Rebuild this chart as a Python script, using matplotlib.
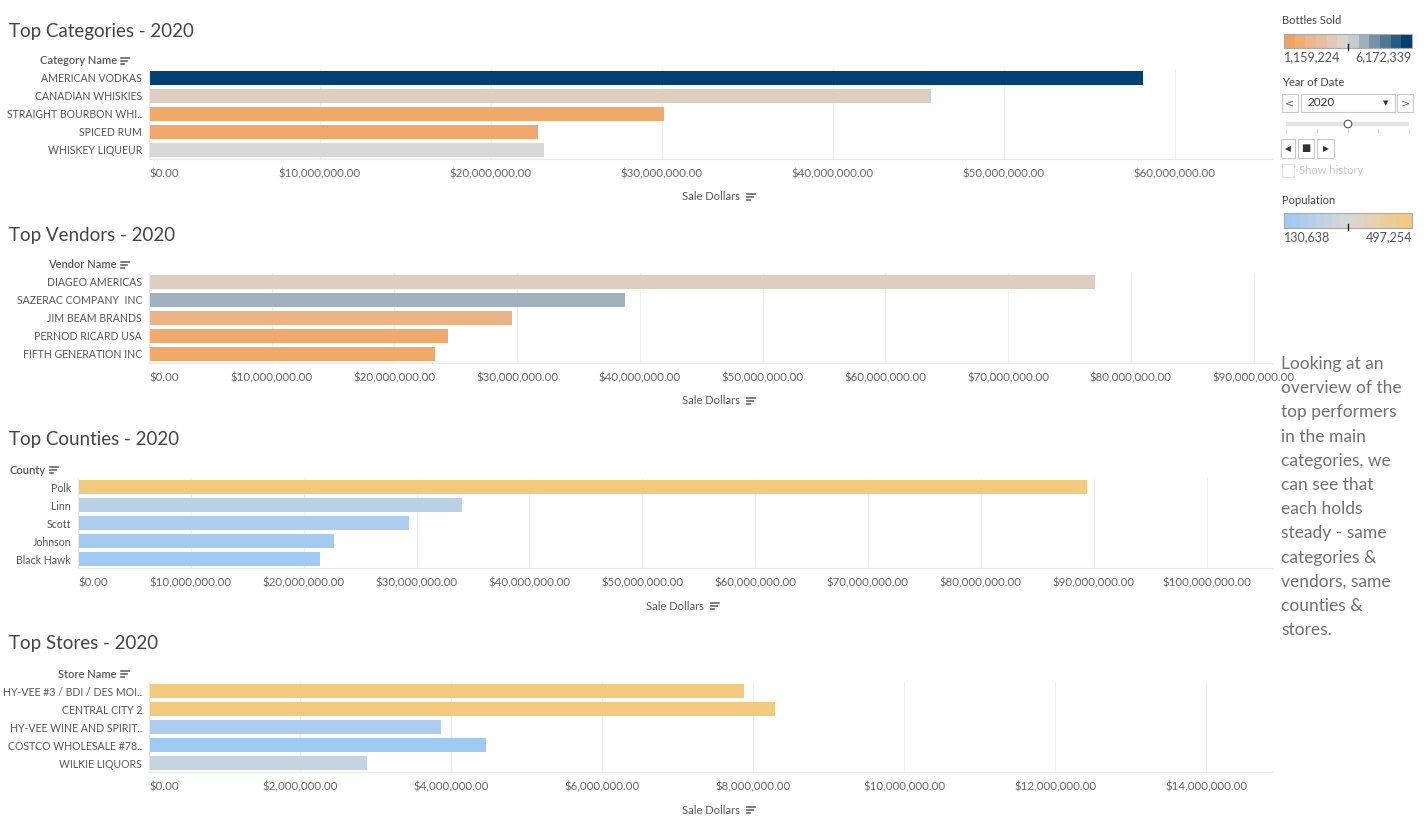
import numpy as np
import matplotlib
matplotlib.use("Agg")
import matplotlib.pyplot as plt
from matplotlib.colors import LinearSegmentedColormap, Normalize
from matplotlib.patches import Rectangle, Circle
from matplotlib.lines import Line2D

plt.rcParams['font.family'] = ['Lato', 'DejaVu Sans']

# ---- data ----
categories = ['AMERICAN VODKAS', 'CANADIAN WHISKIES', 'STRAIGHT BOURBON WHI..', 'SPICED RUM', 'WHISKEY LIQUEUR']
category_sales = [58.16e6, 45.76e6, 30.13e6, 22.76e6, 23.11e6]
category_bottles = [6172339, 3160000, 1430000, 1400000, 3670000]

vendors = ['DIAGEO AMERICAS', 'SAZERAC COMPANY  INC', 'JIM BEAM BRANDS', 'PERNOD RICARD USA', 'FIFTH GENERATION INC']
vendor_sales = [77.1e6, 38.8e6, 29.6e6, 24.4e6, 23.3e6]
vendor_bottles = [3160000, 4320000, 1960000, 1510000, 1430000]

counties = ['Polk', 'Linn', 'Scott', 'Johnson', 'Black Hawk']
county_sales = [89.4e6, 34.0e6, 29.3e6, 22.7e6, 21.4e6]
county_population = [497254, 215000, 171000, 143500, 131000]

stores = ['HY-VEE #3 / BDI / DES MOI..', 'CENTRAL CITY 2', 'HY-VEE WINE AND SPIRIT..', 'COSTCO WHOLESALE #78..', 'WILKIE LIQUORS']
store_sales = [7.88e6, 8.29e6, 3.87e6, 4.46e6, 2.88e6]
store_population = [497254, 497254, 171000, 133000, 252000]

bottles_range = [1159224, 6172339]
population_range = [130638, 497254]

titles = ['Top Categories - 2020', 'Top Vendors - 2020', 'Top Counties - 2020', 'Top Stores - 2020']
headers = ['Category Name', 'Vendor Name', 'County', 'Store Name']
tick_steps = [10e6, 10e6, 10e6, 2e6]
axis_max = [65.7e6, 91.5e6, 105.8e6, 14.87e6]

note_lines = ['Looking at an', 'overview of the', 'top performers', 'in the main',
              'categories, we', 'can see that', 'each holds', 'steady - same',
              'categories &', 'vendors, same', 'counties &', 'stores.']

# ---- colour scales ----
bottles_cmap = LinearSegmentedColormap.from_list('bottles', ['#f4a35e', '#d9d9d9', '#003f73'])
pop_cmap = LinearSegmentedColormap.from_list('population', ['#9fcaf2', '#d9d9d9', '#f2c97d'])
bottles_norm = Normalize(*bottles_range)
pop_norm = Normalize(*population_range)

W, H = 1428, 825
fig = plt.figure(figsize=(W / 100, H / 100), dpi=100)

# overlay for titles / widgets, in pixel coordinates
ov = fig.add_axes([0, 0, 1, 1], zorder=0)
ov.set_xlim(0, W)
ov.set_ylim(H, 0)
ov.axis('off')


def px_rect(x0, y0, x1, y1):
    return [x0 / W, 1 - y1 / H, (x1 - x0) / W, (y1 - y0) / H]


def sort_icon(x, y):
    for dy, length in [(-3, 8), (0, 6), (3, 3)]:
        ov.add_line(Line2D([x, x + length], [y + dy, y + dy], color='#666666', lw=1.2))


def money(v):
    return f"${v:,.2f}"


panels = [
    (categories, category_sales, bottles_cmap(bottles_norm(category_bottles))),
    (vendors, vendor_sales, bottles_cmap(bottles_norm(vendor_bottles))),
    (counties, county_sales, pop_cmap(pop_norm(county_population))),
    (stores, store_sales, pop_cmap(pop_norm(store_population))),
]
tops = [69, 273, 478, 682]
lefts = [149, 149, 78, 149]
right = 1272

for i, (names, sales, colors) in enumerate(panels):
    top, left = tops[i], lefts[i]
    ax = fig.add_axes(px_rect(left, top, right, top + 90), zorder=1)
    ypos = np.arange(len(names))
    ax.barh(ypos, sales, height=0.78, color=colors, zorder=2)
    ax.set_ylim(len(names) - 0.5, -0.5)
    ax.set_xlim(0, axis_max[i])
    ax.set_yticks(ypos, names)
    ticks = np.arange(0, axis_max[i], tick_steps[i])
    ax.set_xticks(ticks, [money(t) for t in ticks])
    ax.get_xticklabels()[0].set_horizontalalignment('left')
    ax.tick_params(axis='x', length=0, pad=6.5, labelsize=8.3, labelcolor='#666666')
    ax.tick_params(axis='y', length=0, pad=5, labelsize=7.6, labelcolor='#555555')
    ax.grid(axis='x', color='#efefef', lw=0.8, zorder=0)
    ax.set_axisbelow(True)
    for s in ['top', 'right']:
        ax.spines[s].set_visible(False)
    for s in ['left', 'bottom']:
        ax.spines[s].set_color('#e8e8e8')
        ax.spines[s].set_linewidth(0.8)

    ov.text(9, top - 38, titles[i], fontsize=13.5, color='#444444',
            ha='left', va='center')
    ov.text(left - 32, top - 8, headers[i], fontsize=8, color='#555555', fontweight='semibold',
            ha='right', va='center')
    sort_icon(left - 28, top - 8)
    mid = (left + right) / 2
    ov.text(mid, top + 128, 'Sale Dollars', fontsize=8, color='#555555', ha='center', va='center')
    sort_icon(mid + 36, top + 128)

# ---- legends / widgets ----
ov.text(1282, 20, 'Bottles Sold', fontsize=8, color='#444444', ha='left', va='center')
bottles_steps = bottles_cmap(np.linspace(0, 1, 12))[np.newaxis, :, :]
ov.imshow(bottles_steps, extent=(1284, 1412, 48, 34), aspect='auto', interpolation='nearest', zorder=2)
ov.add_patch(Rectangle((1284, 34), 128, 14, fill=False, ec='#aaaaaa', lw=0.8, zorder=3))
ov.add_line(Line2D([1348, 1348], [44, 50], color='#222222', lw=1, zorder=4))
ov.text(1284, 57, f"{bottles_range[0]:,}", fontsize=9, color='#555555', ha='left', va='center')
ov.text(1412, 57, f"{bottles_range[1]:,}", fontsize=9, color='#555555', ha='right', va='center')

ov.text(1282, 82, 'Year of Date', fontsize=8, color='#444444', ha='left', va='center')
for x0, x1 in [(1282, 1298), (1301, 1395), (1397, 1413)]:
    ov.add_patch(Rectangle((x0, 94), x1 - x0, 18, fill=False, ec='#c8c8c8', lw=0.8))
ov.text(1290, 103, '<', fontsize=8, color='#666666', ha='center', va='center', family='DejaVu Sans')
ov.text(1405, 103, '>', fontsize=8, color='#666666', ha='center', va='center', family='DejaVu Sans')
ov.text(1307, 102, '2020', fontsize=8.5, color='#333333', ha='left', va='center')
ov.text(1386, 103, '\u25BC', fontsize=5, color='#333333', ha='center', va='center', family='DejaVu Sans')
ov.add_line(Line2D([1286, 1409], [124, 124], color='#e3e3e3', lw=3, solid_capstyle='butt'))
for tx in np.linspace(1286, 1409, 5):
    ov.add_line(Line2D([tx, tx], [129, 132], color='#dddddd', lw=0.8))
ov.add_patch(Circle((1348, 124), 3.8, fc='white', ec='#555555', lw=0.8, zorder=3))
for (x0, x1), glyph in zip([(1281, 1295), (1298, 1314), (1317, 1334)], ['\u25C0', '\u25A0', '\u25B6']):
    ov.add_patch(Rectangle((x0, 139), x1 - x0, 19, fill=False, ec='#c8c8c8', lw=0.8))
    ov.text((x0 + x1) / 2, 148.5, glyph, fontsize=5.5 if glyph != '\u25A0' else 7, color='#333333',
            ha='center', va='center', family='DejaVu Sans')
ov.add_patch(Rectangle((1282, 164), 12, 13, fill=False, ec='#e0e0e0', lw=0.8))
ov.text(1299, 170, 'Show history', fontsize=8, color='#c8c8c8', ha='left', va='center')

ov.text(1282, 201, 'Population', fontsize=8, color='#444444', ha='left', va='center')
pop_steps = pop_cmap(np.linspace(0, 1, 16))[np.newaxis, :, :]
ov.imshow(pop_steps, extent=(1284, 1412, 228, 213), aspect='auto', interpolation='nearest', zorder=2)
ov.add_patch(Rectangle((1284, 213), 128, 15, fill=False, ec='#aaaaaa', lw=0.8, zorder=3))
ov.add_line(Line2D([1348, 1348], [224, 230], color='#222222', lw=1, zorder=4))
ov.text(1284, 237, f"{population_range[0]:,}", fontsize=9, color='#555555', ha='left', va='center')
ov.text(1412, 237, f"{population_range[1]:,}", fontsize=9, color='#555555', ha='right', va='center')
ov.set_xlim(0, W)
ov.set_ylim(H, 0)

for k, line in enumerate(note_lines):
    ov.text(1281, 364 + k * 24.2, line, fontsize=12.5, color='#707070',
            ha='left', va='center')

fig.savefig('out.png', dpi=100)
